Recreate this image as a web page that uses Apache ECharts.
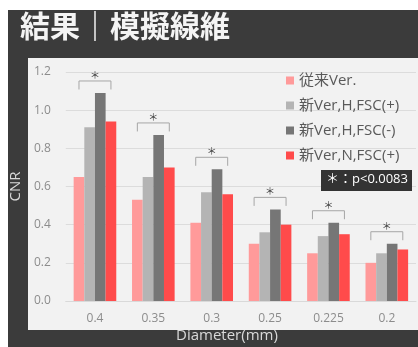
<!DOCTYPE html>
<html><head><meta charset="utf-8">
<script src="https://cdn.jsdelivr.net/npm/echarts@6/dist/echarts.min.js"></script>
<style>html,body{margin:0;padding:0;background:#fff}#c{width:418px;height:347px}</style>
</head><body><div id="c"></div>
<script>
const categories = ['0.4','0.35','0.3','0.25','0.225','0.2'];
const seriesNames = ['従来Ver.','新Ver,H,FSC(+)','新Ver,H,FSC(-)','新Ver,N,FSC(+)'];
const conventional = [0.65, 0.53, 0.41, 0.30, 0.25, 0.20];
const newHFscPlus = [0.91, 0.65, 0.57, 0.36, 0.34, 0.25];
const newHFscMinus = [1.09, 0.87, 0.69, 0.48, 0.41, 0.30];
const newNFscPlus = [0.94, 0.70, 0.56, 0.40, 0.35, 0.27];
const yTicks = [0, 0.2, 0.4, 0.6, 0.8, 1.0, 1.2];
const title = '結果｜模擬線維';
const note = '＊：p<0.0083';

const colors = ['#ff9a9a', '#b4b4b4', '#767676', '#ff4b4b'];
const allSeries = [conventional, newHFscPlus, newHFscMinus, newNFscPlus];
const catGap = 0.27;
const bracketData = categories.map((c, i) => [i, Math.max(...allSeries.map(s => s[i])) + 0.063]);
const FONT = '"Noto Sans CJK JP", "Noto Sans", sans-serif';
const LFONT = '"Open Sans", "Noto Sans CJK JP", sans-serif';

const chart = echarts.init(document.getElementById('c'), null, {renderer: 'canvas'});
const barSeries = allSeries.map((d, k) => ({
  name: seriesNames[k], type: 'bar', data: d,
  barGap: '0%', barCategoryGap: (catGap * 100) + '%',
  itemStyle: {color: colors[k]}, z: 3
}));
chart.setOption({
  animation: false,
  textStyle: {fontFamily: LFONT},
  graphic: [
    {type: 'rect', left: 8, top: 10, shape: {width: 410, height: 337}, style: {fill: '#3b3b3b'}, z: -10, silent: true},
    {type: 'rect', left: 28, top: 58, shape: {width: 390, height: 272}, style: {fill: '#f2f2f2'}, z: -9, silent: true},
    {type: 'text', left: 20, top: 11, style: {text: title, fill: '#f4f4f4', font: 'bold 30px ' + FONT}, z: 10},
    {type: 'text', left: 176, top: 328, style: {text: 'Diameter(mm)', fill: '#d9d9d9', font: '15px ' + LFONT}, z: 10},
    {type: 'rect', left: 321, top: 170, shape: {width: 91, height: 21}, style: {fill: '#333333'}, z: 10},
    {type: 'text', left: 326, top: 173, style: {text: note, fill: '#ffffff', font: '13px ' + LFONT}, z: 11}
  ],
  grid: {left: 62, right: 2, top: 72, bottom: 46},
  legend: {
    data: seriesNames, orient: 'vertical', left: 281, top: 68,
    icon: 'rect', itemWidth: 8, itemHeight: 8, itemGap: 10,
    textStyle: {fontSize: 15, color: '#595959', lineHeight: 15, fontFamily: LFONT}
  },
  xAxis: {
    type: 'category', data: categories,
    axisLine: {lineStyle: {color: '#d9d9d9'}},
    axisTick: {length: 5, lineStyle: {color: '#d9d9d9'}},
    axisLabel: {color: '#8c8c8c', fontSize: 12, margin: 12}
  },
  yAxis: {
    type: 'value', min: 0, max: 1.2, interval: 0.2,
    name: 'CNR', nameLocation: 'middle', nameGap: 33, nameRotate: 90,
    nameTextStyle: {color: '#d9d9d9', fontSize: 15},
    axisLine: {show: false}, axisTick: {show: false},
    axisLabel: {color: '#8c8c8c', fontSize: 12, margin: 15, formatter: v => v.toFixed(1)},
    splitLine: {lineStyle: {color: '#dcdcdc'}}
  },
  series: barSeries.concat([{
    type: 'custom', data: bracketData, z: 5, silent: true,
    renderItem: function (params, api) {
      const cx = api.coord([api.value(0), 0])[0];
      const yTop = api.coord([api.value(0), api.value(1)])[1];
      const catW = api.size([1, 0])[0];
      const bw = catW * (1 - catGap) / 4;
      const x1 = cx - 1.5 * bw, x2 = cx + 1.5 * bw;
      return {type: 'group', children: [
        {type: 'polyline', shape: {points: [[x1, yTop + 8.5], [x1, yTop], [x2, yTop], [x2, yTop + 8.5]]},
         style: {stroke: '#a6a6a6', lineWidth: 1, fill: null}},
        {type: 'text', style: {x: cx, y: yTop - 6, text: '＊', fill: '#404040', font: '10px ' + FONT, textAlign: 'center', textVerticalAlign: 'middle'}}
      ]};
    }
  }])
});
</script></body></html>
